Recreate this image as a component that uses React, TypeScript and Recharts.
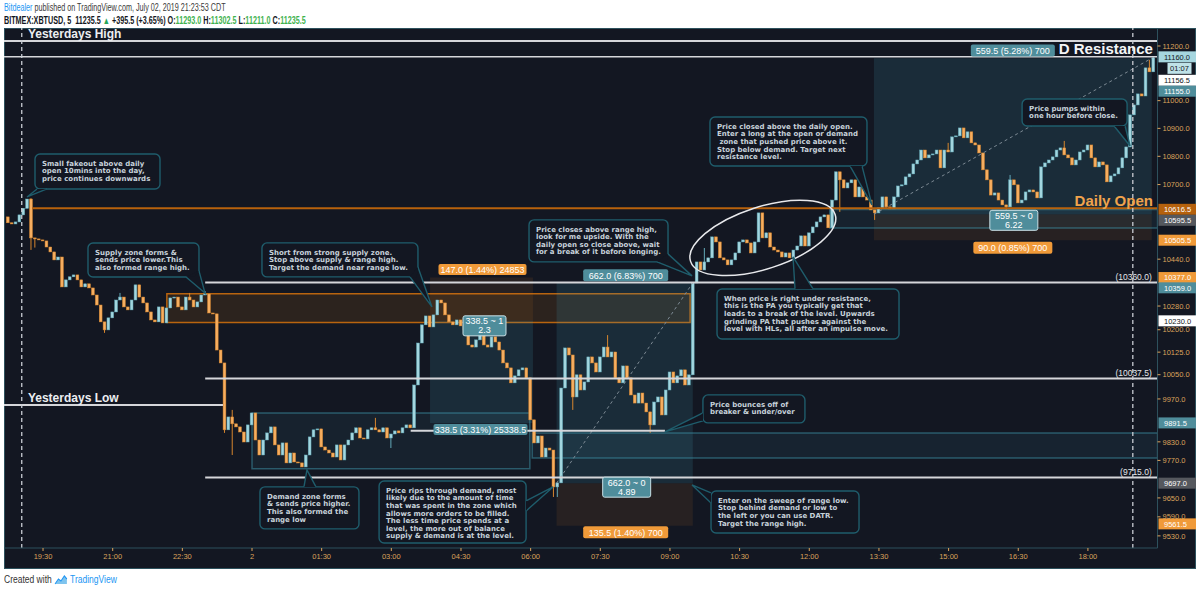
import React from "react";
import { Bar, ComposedChart, ReferenceArea, ReferenceDot, ReferenceLine, XAxis, YAxis } from "recharts";

if (typeof document !== "undefined") document.body.style.margin = "0";

// 5 minute candles, index 0 = 18:45 CDT, opens = previous close
const firstOpen = 10586.5;
const closes = [
  10566, 10562, 10569, 10593.5, 10616.5, 10649, 10513.5, 10510, 10506.5, 10503,
  10482, 10465, 10437.5, 10447.5, 10345, 10369, 10379.5, 10386, 10369, 10345,
  10355.5, 10341.5, 10317.5, 10283.5, 10226.5, 10199.5, 10240, 10260, 10300.5, 10310.5,
  10277, 10267, 10300.5, 10352, 10310.5, 10290.5, 10260, 10233, 10226.5, 10277,
  10223, 10273.5, 10307.5, 10310.5, 10277, 10267, 10310.5, 10300.5, 10277, 10294,
  10317.5, 10321, 10256.5, 10253.5, 10132, 10089, 9869, 9911, 9888.5, 9878.5,
  9862, 9829.5, 9885, 9924, 9836, 9787.5, 9836, 9859, 9878.5, 9820,
  9787.5, 9826.5, 9762, 9794, 9765, 9762, 9749, 9787.5, 9846, 9869,
  9872, 9813.5, 9803.5, 9794, 9781, 9820, 9771.5, 9820, 9836, 9859,
  9875.5, 9842.5, 9839.5, 9869, 9875.5, 9869, 9862, 9875.5, 9842.5, 9855.5,
  9865.5, 9859, 9875.5, 9885, 9875.5, 10016, 10155.5, 10216.5, 10246.5, 10209.5,
  10250, 10300.5, 10290.5, 10250, 10226.5, 10216.5, 10233, 10213, 10199.5, 10149,
  10142, 10166, 10182.5, 10149, 10142, 10176, 10159, 10132, 10089, 10072.5,
  10023, 10046, 10066, 10072.5, 10039.5, 9901.5, 9826.5, 9849, 9781, 9810,
  9803.5, 9685, 9698, 10006, 10139, 10115.5, 9976.5, 10049.5, 9999.5, 10026,
  10109, 10089, 10059, 10109, 10142, 10109, 10125.5, 10039.5, 10023, 10079,
  10039.5, 9983, 9956.5, 9989.5, 9956.5, 9927.5, 9885, 9960, 9976.5, 9917.5,
  9999.5, 10059, 10023, 10046, 10066, 10016, 10049.5, 10358.5, 10430.5, 10403,
  10430.5, 10444.5, 10517, 10499.5, 10444.5, 10437.5, 10420.5, 10437.5, 10461.5, 10499.5,
  10506.5, 10496, 10461.5, 10499.5, 10600.5, 10513.5, 10531, 10482, 10471.5, 10465,
  10447.5, 10461.5, 10444.5, 10471.5, 10485.5, 10520.5, 10485.5, 10531, 10551.5, 10569,
  10586.5, 10593.5, 10548.5, 10645.5, 10745, 10716.5, 10688, 10706, 10716.5, 10656.5,
  10691.5, 10656.5, 10645.5, 10611, 10600.5, 10618, 10656.5, 10621.5, 10614.5, 10656.5,
  10695, 10699, 10727, 10737.5, 10773, 10787, 10822.5, 10794.5, 10805, 10808.5,
  10822.5, 10759, 10822.5, 10815.5, 10869.5, 10873, 10901.5, 10866, 10887.5, 10848,
  10840.5, 10812, 10752, 10716.5, 10663, 10670.5, 10645.5, 10628.5, 10621.5, 10716.5,
  10699, 10635.5, 10645.5, 10674, 10681, 10674, 10653, 10762.5, 10776.5, 10787,
  10798, 10822.5, 10830, 10805, 10794.5, 10769.5, 10787, 10815.5, 10822.5, 10840.5,
  10794.5, 10762.5, 10780, 10769.5, 10709.5, 10730.5, 10737.5, 10759, 10794.5, 10833.5,
  10948.5, 10984.5, 11024.5, 11017, 11119.5, 11105, 11156.5,
];
// [bar, price] for the wicks that stick out of the bodies
const highWicks = [
  [6, 10652], [29, 10324.5], [47, 10324.5], [51, 10331], [58, 9934], [95, 9908], [155, 10182],
  [180, 10478.5], [243, 10848], [259, 10734], [273, 10855], [295, 11149], [296, 11163],
];
const lowWicks = [
  [6, 10472], [7, 10480], [25, 10189.5], [56, 9859], [58, 9787.5], [99, 9810], [141, 9653],
  [142, 9653], [146, 9934], [166, 9859], [215, 10604], [224, 10576], [258, 10611],
];

const timeLabels = ["19:30", "21:00", "22:30", "2", "01:30", "03:00", "04:30", "06:00", "07:30", "09:00", "10:30", "12:00", "13:30", "15:00", "16:30", "18:00"];
const timeTickBars = [9, 27, 45, 63, 81, 99, 117, 135, 153, 171, 189, 207, 225, 243, 261, 279];
const priceTicks = [11200, 11000, 10900, 10800, 10700, 10440, 10280, 10200, 10125, 10050, 9970, 9830, 9770, 9650, 9590, 9530];

// levels
const yesterdaysHigh = 11218;
const dResistance = 11160;
const dailyOpen = 10616.5;
const rangeHigh = 10360;
const midLevel = 10037.5;
const yesterdaysLow = 9950;
const rangeLow = 9715;
const breaker = 9866;

// zones [fromBar, toBar, top, bottom]
const supplyZone = [41, 176.2, 10322, 10224];
const demandZone = [63, 134.8, 9924, 9743];
const openZone = [212.3, 297, 10612, 10548];
const lowerZone = [135.4, 297, 9859, 9778];

// position tools [fromBar, toBar, stop, entry, target]
const shortTool = [109, 135.6, 10377, 10230, 9891.5];
const longTool1 = [141.7, 176.9, 9561.5, 9697, 10359];
const longTool2 = [223.7, 295.5, 10505.5, 10595.5, 11155];
const shortTexts = ["147.0 (1.44%) 24853", "338.5 (3.31%) 25338.5", "338.5 ~ 1", "2.3"];
const long1Texts = ["662.0 (6.83%) 700", "135.5 (1.40%) 700", "662.0 ~ 0", "4.89"];
const long2Texts = ["559.5 (5.28%) 700", "90.0 (0.85%) 700", "559.5 ~ 0", "6.22"];

const axisBadgePrices = [11160, 11160, 11156.5, 11155, 10616.5, 10595.5, 10505.5, 10377, 10359, 10230, 9891.5, 9697, 9561.5];
const axisBadgeTexts = ["11160.0", "01:07", "11156.5", "11155.0", "10616.5", "10595.5", "10505.5", "10377.0", "10359.0", "10230.0", "9891.5", "9697.0", "9561.5"];

const noteTips = [
  [4.86, 10656.3], [50.85, 10324.5], [109.5, 10277], [77.2, 9739.5], [140.8, 9685], [176.7, 10382.7],
  [223.2, 10628.3], [202.8, 10447.7], [169.7, 9862.2], [176.7, 9691.4], [289.9, 10836.9],
];
const noteTexts = [
  ["Small fakeout above daily", "open 10mins into the day,", "price continues downwards"],
  ["Supply zone forms &", "sends price lower.This", "also formed range high."],
  ["Short from strong supply zone.", "Stop above supply & range high.", "Target the demand near range low."],
  ["Demand zone forms", "& sends price higher.", "This also formed the", "range low"],
  ["Price rips through demand, most", "likely due to the amount of time", "that was spent in the zone which", "allows more orders to be filled.", "The less time price spends at a", "level, the more out of balance", "supply & demand is at the level."],
  ["Price closes above range high,", "look for me upside. With the", "daily open so close above, wait", "for a break of it before longing."],
  ["Price closed above the daily open.", "Enter a long at the open or demand", " zone that pushed price above it.", "Stop below demand. Target next", "resistance level."],
  ["When price is right under resistance,", "this is the PA you typically get that", "leads to a break of the level. Upwards", "grinding PA that pushes against the", "level with HLs, all after an impulse move."],
  ["Price bounces off of", "breaker & under/over"],
  ["Enter on the sweep of range low.", "Stop behind demand or low to", "the left or you can use DATR.", "Target the range high."],
  ["Price pumps within", "one hour before close."],
];

// layout of the callout boxes relative to their tip: dx, dy, w, h, tail base
const noteBoxes = [
  { dx: 8, dy: -43, w: 125, h: 35, t: [[2, 35], [12, 35]] },
  { dx: -117, dy: -50, w: 111, h: 34, t: [[98, 34], [111, 28]] },
  { dx: -170, dy: -64, w: 156, h: 34, t: [[148, 34], [156, 24]] },
  { dx: -47, dy: 17, w: 99, h: 42, t: [[44, 0], [56, 0]] },
  { dx: -174, dy: -6, w: 147, h: 62, t: [[147, 20], [147, 30]] },
  { dx: -163, dy: -56, w: 139, h: 42, t: [[128, 42], [139, 34]] },
  { dx: -162, dy: -88, w: 157, h: 49, t: [[140, 49], [152, 49]] },
  { dx: -76, dy: 32, w: 182, h: 50, t: [[78, 0], [96, 0]] },
  { dx: 38, dy: -37, w: 102, h: 28, t: [[0, 18], [0, 26]] },
  { dx: 19, dy: 6, w: 148, h: 42, t: [[0, 2], [0, 12]] },
  { dx: -108, dy: -47, w: 105, h: 27, t: [[92, 27], [103, 27]] },
];

const BG = "#131722";
const FONT = '"Liberation Sans", Arial, sans-serif';
const NOTE_FONT = '"DejaVu Sans", Verdana, sans-serif';
const AXIS_TEXT = "#dca35c";
const FRAME = "#2d515d";
const WHITE_LINE = "#d5d6da";
const UP_FILL = "#a3d6df";
const UP_EDGE = "#62a9b8";
const DN_FILL = "#f6ae60";
const DN_EDGE = "#d7862e";
const TEAL_BADGE = "#4f8d9b";
const ORANGE_BADGE = "#f09a39";
const NOTE_EDGE = "#1f5d6c";
const NOTE_TEXT = "#c7d2da";
const X_MIN = -1.085;
const X_MAX = 296.98;

const candles = closes.map((close, i) => {
  const open = i === 0 ? firstOpen : closes[i - 1];
  let high = Math.max(open, close);
  let low = Math.min(open, close);
  const hw = highWicks.find((w) => w[0] === i);
  const lw = lowWicks.find((w) => w[0] === i);
  if (hw) high = Math.max(high, hw[1]);
  if (lw) low = Math.min(low, lw[1]);
  return { i, open, close, high, low, range: [low, high] };
});

function Candle(props: any) {
  const { x, y, width, height, payload } = props;
  if (x == null || !payload) return null;
  const { open, close, high, low } = payload;
  const top = Math.min(y, y + height);
  const bot = Math.max(y, y + height);
  const lh = Math.log(high);
  const ll = Math.log(low);
  const py = (p: number) => (lh === ll ? top : top + ((lh - Math.log(p)) / (lh - ll)) * (bot - top));
  const cx = x + width / 2;
  const up = close >= open;
  const yo = py(open);
  const yc = py(close);
  const bt = Math.min(yo, yc);
  const bh = Math.max(1, Math.abs(yc - yo));
  return (
    <g>
      <line x1={cx} x2={cx} y1={top} y2={bot} stroke={up ? UP_EDGE : DN_EDGE} strokeWidth={1} />
      <rect x={cx - 1.4} y={bt} width={2.8} height={bh} fill={up ? UP_FILL : DN_FILL} stroke={up ? UP_EDGE : DN_EDGE} strokeWidth={0.5} />
    </g>
  );
}

// helper: draw arbitrary svg anchored on a data point
function at(key: string, x: number, y: number, draw: (cx: number, cy: number) => React.ReactNode) {
  return (
    <ReferenceDot
      key={key}
      x={x}
      y={y}
      r={1}
      ifOverflow="visible"
      shape={(p: any) => <g>{draw(p.cx, p.cy)}</g>}
    />
  );
}

function pill(cx: number, cy: number, w: number, h: number, text: string, bg: string, fg = "#fff", fs = 9) {
  return (
    <g>
      <rect x={cx - w / 2} y={cy - h / 2} width={w} height={h} rx={2} fill={bg} />
      <text x={cx} y={cy + fs * 0.36} textAnchor="middle" fontSize={fs} fill={fg} fontFamily={FONT}>
        {text}
      </text>
    </g>
  );
}

function infoBox(cx: number, top: number, w: string[], width: number) {
  return (
    <g>
      <rect x={cx - width / 2} y={top} width={width} height={20} rx={2} fill={TEAL_BADGE} stroke="#c9e0e6" strokeWidth={1} />
      <text x={cx} y={top + 8.5} textAnchor="middle" fontSize={9} fill="#fff" fontFamily={FONT}>{w[2]}</text>
      <text x={cx} y={top + 17.5} textAnchor="middle" fontSize={9} fill="#fff" fontFamily={FONT}>{w[3]}</text>
    </g>
  );
}

const badgeStyles = [
  { bg: "#a6d6df", fg: BG, dy: 0 },
  { bg: "#bfe2e8", fg: BG, dy: 11.5 },
  { bg: "#ffffff", fg: BG, dy: 22.5 },
  { bg: TEAL_BADGE, fg: "#fff", dy: 33 },
  { bg: "#b5610d", fg: "#fff", dy: 1 },
  { bg: "#55585e", fg: "#fff", dy: 6 },
  { bg: ORANGE_BADGE, fg: "#fff", dy: 0 },
  { bg: ORANGE_BADGE, fg: "#fff", dy: 0 },
  { bg: TEAL_BADGE, fg: "#fff", dy: 5 },
  { bg: "#ffffff", fg: BG, dy: 0 },
  { bg: TEAL_BADGE, fg: "#fff", dy: 0 },
  { bg: "#55585e", fg: "#fff", dy: 0 },
  { bg: ORANGE_BADGE, fg: "#fff", dy: -2 },
];

function toolAreas(key: string, t: number[]) {
  const [x1, x2, stop, entry, target] = t;
  return [
    <ReferenceArea key={key + "s"} x1={x1} x2={x2} y1={stop} y2={entry} ifOverflow="hidden" fill="rgba(219,128,44,0.2)" stroke="none" />,
    <ReferenceArea key={key + "t"} x1={x1} x2={x2} y1={entry} y2={target} ifOverflow="hidden" fill="rgba(70,155,178,0.32)" stroke="none" />,
  ];
}

export default function App() {
  const whiteSeg = (key: string, p: number, x1: number, x2: number, w = 2) => (
    <ReferenceLine
      key={key}
      segment={[{ x: x1, y: p }, { x: x2, y: p }]}
      stroke={WHITE_LINE}
      strokeWidth={w}
      ifOverflow="hidden"
    />
  );
  const levelTag = (key: string, p: number, text: string) =>
    at(key, 295.5, p, (cx, cy) => (
      <text x={cx} y={cy - 2.5} textAnchor="end" fontSize={8.5} fill="#e6e7ea" fontFamily={FONT}>{text}</text>
    ));
  const midOf = (t: number[]) => (t[0] + t[1]) / 2;

  return (
    <div style={{ position: "relative", width: 1199, height: 589, background: "#fff", fontFamily: FONT, overflow: "hidden" }}>
      <div style={{ position: "absolute", left: 4, top: 2, fontSize: 10, lineHeight: "12px", whiteSpace: "nowrap", color: "#3a3a3a", transform: "scaleX(0.72)", transformOrigin: "left" }}>
        <span style={{ color: "#2196f3" }}>Bitdealer</span> published on TradingView.com, July 02, 2019 21:23:53 CDT
      </div>
      <div style={{ position: "absolute", left: 4, top: 15, fontSize: 10, lineHeight: "12px", whiteSpace: "nowrap", color: "#131722", fontWeight: 700, transform: "scaleX(0.72)", transformOrigin: "left" }}>
        BITMEX:XBTUSD, 5&nbsp; 11235.5 <span style={{ color: "#26a65b" }}>▲</span> +395.5 (+3.65%) O:<span style={{ color: "#3fb34f" }}>11293.0</span> H:<span style={{ color: "#3fb34f" }}>11302.5</span> L:<span style={{ color: "#3fb34f" }}>11211.0</span> C:<span style={{ color: "#3fb34f" }}>11235.5</span>
      </div>

      <div style={{ position: "absolute", left: 4, top: 28, width: 1192, height: 541, background: BG, boxShadow: `inset 0 0 0 1px ${FRAME}` }}>
        <ComposedChart width={1192} height={541} data={candles} margin={{ top: 0, right: 0, bottom: 0, left: 0 }}>
          <XAxis
            dataKey="i"
            type="number"
            domain={[X_MIN, X_MAX]}
            allowDataOverflow
            ticks={timeTickBars}
            interval={0}
            tickFormatter={(v: number) => timeLabels[timeTickBars.indexOf(v)] ?? ""}
            height={21}
            axisLine={{ stroke: FRAME }}
            tickLine={{ stroke: AXIS_TEXT }}
            tickSize={3}
            tickMargin={3}
            tick={{ fill: AXIS_TEXT, fontSize: 7.5, fontFamily: FONT }}
          />
          <YAxis
            orientation="right"
            type="number"
            scale="log"
            domain={[9492, 11266.6]}
            allowDataOverflow
            ticks={priceTicks}
            interval={0}
            tickFormatter={(v: number) => v.toFixed(1)}
            width={38.5}
            axisLine={{ stroke: FRAME }}
            tickLine={{ stroke: AXIS_TEXT }}
            tickSize={3}
            tickMargin={2}
            tick={{ fill: AXIS_TEXT, fontSize: 7.5, fontFamily: FONT, textAnchor: "start" }}
          />

          <ReferenceArea x1={supplyZone[0]} x2={supplyZone[1]} y1={supplyZone[2]} y2={supplyZone[3]} ifOverflow="hidden" fill="rgba(207,115,10,0.27)" stroke="#b8640f" strokeWidth={1.5} />
          <ReferenceArea x1={demandZone[0]} x2={demandZone[1]} y1={demandZone[2]} y2={demandZone[3]} ifOverflow="hidden" fill="rgba(60,140,160,0.2)" stroke="rgba(60,140,160,0.55)" strokeWidth={1.5} />
          {toolAreas("sh", shortTool)}
          {toolAreas("l1", longTool1)}
          {toolAreas("l2", longTool2)}
          <ReferenceArea x1={openZone[0]} x2={openZone[1]} y1={openZone[2]} y2={openZone[3]} ifOverflow="hidden" fill="rgba(60,140,160,0.2)" stroke="rgba(60,140,160,0.55)" strokeWidth={1.5} />
          <ReferenceArea x1={lowerZone[0]} x2={lowerZone[1]} y1={lowerZone[2]} y2={lowerZone[3]} ifOverflow="hidden" fill="rgba(60,140,160,0.22)" stroke="rgba(60,140,160,0.55)" strokeWidth={1.5} />

          <Bar dataKey="range" barSize={3} isAnimationActive={false} shape={Candle} />

          <ReferenceLine segment={[{ x: longTool1[0], y: longTool1[3] }, { x: longTool1[1], y: longTool1[4] }]} stroke="#7d8a94" strokeDasharray="3 3" ifOverflow="hidden" />
          <ReferenceLine segment={[{ x: longTool2[0], y: longTool2[3] }, { x: longTool2[1], y: longTool2[4] }]} stroke="#7d8a94" strokeDasharray="3 3" ifOverflow="hidden" />

          {whiteSeg("yh", yesterdaysHigh, X_MIN, X_MAX)}
          {whiteSeg("dr", dResistance, X_MIN, X_MAX, 1.5)}
          {whiteSeg("rh", rangeHigh, 50.9, X_MAX)}
          {whiteSeg("md", midLevel, 50.9, X_MAX)}
          {whiteSeg("yl", yesterdaysLow, X_MIN, 55.5)}
          {whiteSeg("rl", rangeLow, 50.9, X_MAX)}
          {whiteSeg("bk", breaker, 104, 169.7)}
          <ReferenceLine segment={[{ x: 6.2, y: dailyOpen }, { x: X_MAX, y: dailyOpen }]} stroke="#b8620c" strokeWidth={2} ifOverflow="hidden" />
          <ReferenceLine x={3.5} stroke="#c9ccd3" strokeDasharray="4 3" strokeWidth={1.3} />
          <ReferenceLine x={290.6} stroke="#c9ccd3" strokeDasharray="4 3" strokeWidth={1.3} />

          {at("ell", 195, 10513.5, (cx, cy) => (
            <ellipse cx={cx} cy={cy} rx={76} ry={31} fill="none" stroke="#e8e9ec" strokeWidth={1.5} transform={`rotate(-18 ${cx} ${cy})`} />
          ))}

          {at("tyh", 5.1, yesterdaysHigh, (cx, cy) => (
            <text x={cx} y={cy - 3} fontSize={12} fontWeight={700} fill="#eceef1" fontFamily={FONT}>Yesterdays High</text>
          ))}
          {at("tyl", 5.1, yesterdaysLow, (cx, cy) => (
            <text x={cx} y={cy - 3} fontSize={12} fontWeight={700} fill="#eceef1" fontFamily={FONT}>Yesterdays Low</text>
          ))}
          {at("tdr", 295.8, dResistance, (cx, cy) => (
            <text x={cx} y={cy - 2.5} textAnchor="end" fontSize={15} fontWeight={700} fill="#f4f5f7" fontFamily={FONT}>D Resistance</text>
          ))}
          {at("tdo", 295.8, dailyOpen, (cx, cy) => (
            <text x={cx} y={cy - 2.5} textAnchor="end" fontSize={15} fontWeight={700} fill="#f0a34c" fontFamily={FONT}>Daily Open</text>
          ))}
          {levelTag("t1", rangeHigh, "(10360.0)")}
          {levelTag("t2", midLevel, "(10037.5)")}
          {levelTag("t3", rangeLow, "(9715.0)")}

          {at("s1", midOf(shortTool), shortTool[2], (cx, cy) => pill(cx + 1, cy - 8, 88, 11, shortTexts[0], ORANGE_BADGE))}
          {at("s2", midOf(shortTool), shortTool[4], (cx, cy) => pill(cx - 1, cy + 6.5, 94, 11, shortTexts[1], TEAL_BADGE))}
          {at("s3", midOf(shortTool), shortTool[3], (cx, cy) => infoBox(cx + 3, cy - 5, shortTexts, 43))}
          {at("a1", midOf(longTool1), longTool1[4], (cx, cy) => pill(cx + 1, cy - 7.5, 85, 12, long1Texts[0], TEAL_BADGE))}
          {at("a2", midOf(longTool1), longTool1[2], (cx, cy) => pill(cx + 1, cy + 6.5, 85, 12, long1Texts[1], ORANGE_BADGE))}
          {at("a3", midOf(longTool1), longTool1[3], (cx, cy) => infoBox(cx + 2, cy - 6, long1Texts, 48))}
          {at("b1", midOf(longTool2), longTool2[4], (cx, cy) => pill(cx, cy - 7.7, 84, 12, long2Texts[0], TEAL_BADGE))}
          {at("b2", midOf(longTool2), longTool2[2], (cx, cy) => pill(cx, cy + 7.5, 79, 12, long2Texts[1], ORANGE_BADGE))}
          {at("b3", midOf(longTool2), longTool2[3], (cx, cy) => infoBox(cx + 1, cy - 4, long2Texts, 48))}

          {noteTips.map((tip, k) =>
            at("n" + k, tip[0], tip[1], (cx, cy) => {
              const b = noteBoxes[k];
              const bx = cx + b.dx;
              const by = cy + b.dy;
              const p1 = [bx + b.t[0][0], by + b.t[0][1]];
              const p2 = [bx + b.t[1][0], by + b.t[1][1]];
              const mx = (p1[0] + p2[0]) / 2;
              const my = (p1[1] + p2[1]) / 2;
              const inner = [mx + (cx - mx) * 0.15, my + (cy - my) * 0.15];
              return (
                <g>
                  <rect x={bx} y={by} width={b.w} height={b.h} rx={5} fill={BG} stroke={NOTE_EDGE} strokeWidth={1.4} />
                  <polygon points={`${p1[0]},${p1[1]} ${cx},${cy} ${p2[0]},${p2[1]}`} fill={BG} stroke="none" />
                  <polyline points={`${p1[0]},${p1[1]} ${cx},${cy} ${p2[0]},${p2[1]}`} fill="none" stroke={NOTE_EDGE} strokeWidth={1.4} />
                  <polygon points={`${p1[0]},${p1[1]} ${inner[0]},${inner[1]} ${p2[0]},${p2[1]}`} fill={BG} stroke="none" />
                  <text fontSize={7} fontWeight={700} fill={NOTE_TEXT} fontFamily={NOTE_FONT}>
                    {noteTexts[k].map((line, j) => (
                      <tspan key={j} x={bx + 7} y={by + 11.8 + j * 7.6} style={{ whiteSpace: "pre" }}>{line}</tspan>
                    ))}
                  </text>
                </g>
              );
            }),
          )}

          {axisBadgePrices.map((p, k) =>
            at("ab" + k, X_MAX, p, (cx, cy) => {
              const s = badgeStyles[k];
              const small = axisBadgeTexts[k].length < 6;
              return (
                <g>
                  <rect x={small ? cx + 10 : cx + 1} y={cy + s.dy - 5.5} width={small ? 24 : 38} height={11} fill={s.bg} />
                  <text x={small ? cx + 22 : cx + 6.5} y={cy + s.dy + 2.7} textAnchor={small ? "middle" : "start"} fontSize={7.5} fill={s.fg} fontFamily={FONT}>
                    {axisBadgeTexts[k]}
                  </text>
                </g>
              );
            }),
          )}
        </ComposedChart>
      </div>

      <div style={{ position: "absolute", left: 4, top: 574, fontSize: 10, lineHeight: "12px", whiteSpace: "nowrap", color: "#333", transform: "scaleX(0.85)", transformOrigin: "left", display: "flex", alignItems: "center" }}>
        Created with&nbsp;
        <svg width={16} height={10} viewBox="0 0 16 10">
          <path d="M1 9 L5 4 L8 6 L12 1 L15 4 L15 9 Z" fill="#7fc4ee" />
          <path d="M1 9 L5 4 L8 6 L12 1 L15 4" fill="none" stroke="#2196f3" strokeWidth={1.2} />
        </svg>
        <span style={{ color: "#2196f3" }}>&nbsp;TradingView</span>
      </div>
    </div>
  );
}
